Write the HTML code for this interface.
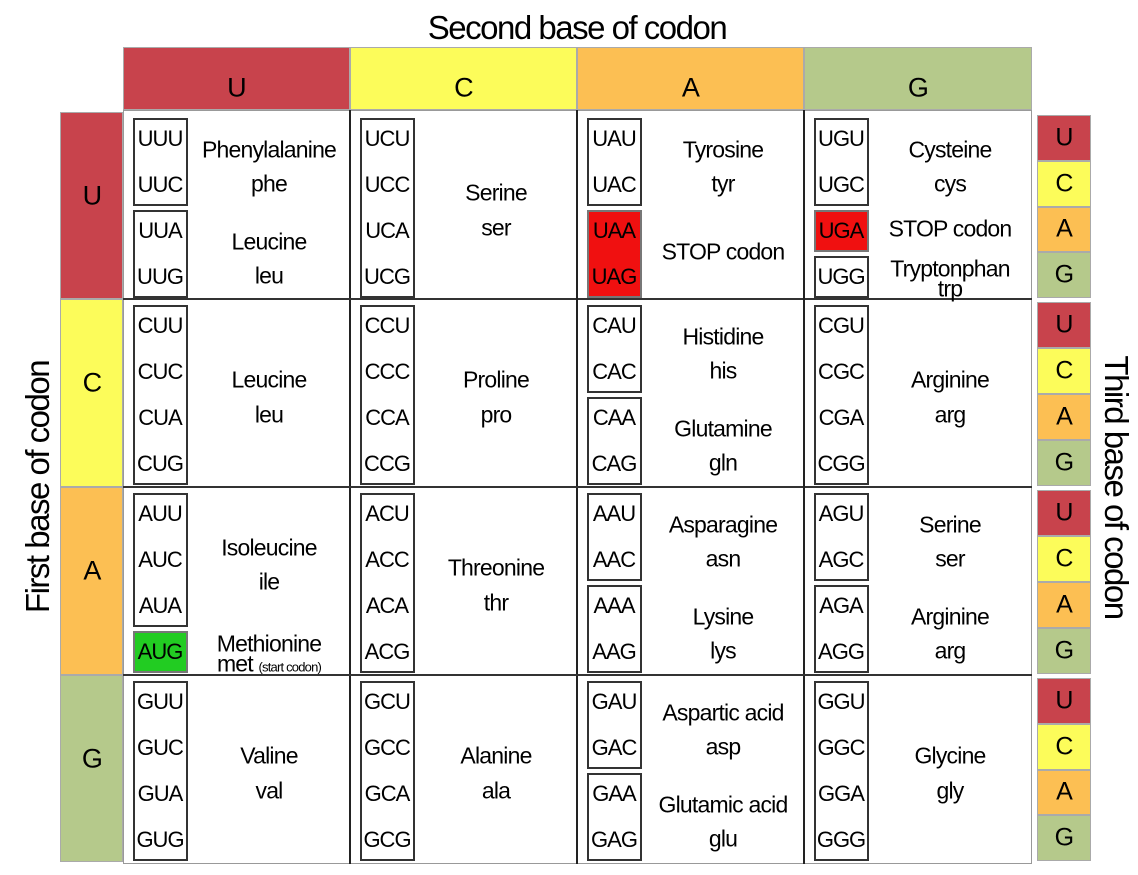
<!DOCTYPE html>
<html><head><meta charset="utf-8">
<style>
body{margin:0;background:#fff;width:1138px;height:875px;overflow:hidden;font-family:"Liberation Sans",sans-serif;}
#root{position:relative;width:1138px;height:875px;}
.abs{position:absolute;box-sizing:border-box;}
.t{position:absolute;white-space:nowrap;transform:translate(-50%,-50%);color:#000;letter-spacing:-0.8px;}
</style></head>
<body>
<div id="root"></div>
<script>
const bases = ["U","C","A","G"];
const baseColors = ["#c8434c","#fcfc5a","#fcbf53","#b5c98b"];
// groups per cell [row][col]: [count, name, abbr, highlight]
const groups = [
 [[[2,"Phenylalanine","phe",""],[2,"Leucine","leu",""]],[[4,"Serine","ser",""]],[[2,"Tyrosine","tyr",""],[2,"STOP codon","","red"]],[[2,"Cysteine","cys",""],[1,"STOP codon","","red"],[1,"Tryptonphan","trp","tight"]]],
 [[[4,"Leucine","leu",""]],[[4,"Proline","pro",""]],[[2,"Histidine","his",""],[2,"Glutamine","gln",""]],[[4,"Arginine","arg",""]]],
 [[[3,"Isoleucine","ile",""],[1,"Methionine","met","green"]],[[4,"Threonine","thr",""]],[[2,"Asparagine","asn",""],[2,"Lysine","lys",""]],[[2,"Serine","ser",""],[2,"Arginine","arg",""]]],
 [[[4,"Valine","val",""]],[[4,"Alanine","ala",""]],[[2,"Aspartic acid","asp",""],[2,"Glutamic acid","glu",""]],[[4,"Glycine","gly",""]]]
];
const root=document.getElementById('root');
const colX=[123,350,577,804,1032];
const rowY=[112,299,487,675,862];
function div(cls,style,text){const d=document.createElement('div');d.className=cls;d.style.cssText=style;if(text!==undefined)d.textContent=text;root.appendChild(d);return d;}

let e=div('t','left:577px;top:28px;font-size:33px;letter-spacing:-1.5px;','Second base of codon');


e=div('t','left:38px;top:487px;font-size:33px;letter-spacing:-1.5px;transform:translate(-50%,-50%) rotate(-90deg);','First base of codon');


e=div('t','left:1116px;top:487px;font-size:33px;letter-spacing:-1.5px;transform:translate(-50%,-50%) rotate(90deg);','Third base of codon');



e=div('abs','left:123px;top:110px;width:909px;height:754px;background:#fff;border:1px solid #999;');



for(let i=0;i<4;i++){
  e=div('abs',`left:${colX[i]}px;top:47px;width:${colX[i+1]-colX[i]}px;height:63px;background:${baseColors[i]};border:1px solid #aaa;`);
  
  
  e=div('t',`left:${(colX[i]+colX[i+1])/2}px;top:88px;font-size:27px;`,bases[i]);
  
  
  e=div('abs',`left:60px;top:${rowY[i]}px;width:63px;height:${rowY[i+1]-rowY[i]}px;background:${baseColors[i]};border:1px solid #aaa;`);
  
  
  e=div('t',`left:92px;top:${rowY[i]+84}px;font-size:27px;`,bases[i]);
  
  
  const h=(rowY[i+1]-rowY[i]-4)/4;
  for(let k=0;k<4;k++){
    const top=rowY[i]+3+h*k;
    e=div('abs',`left:1037px;top:${top}px;width:54px;height:${h}px;background:${baseColors[k]};border:1px solid #aaa;`);
    
    
    e=div('t',`left:1064px;top:${top+h/2}px;font-size:25px;`,bases[k]);
    
    
  }
}
for(let i=1;i<4;i++){
  e=div('abs',`left:${colX[i]-1}px;top:110px;width:2px;height:754px;background:#222;`);
  
  
  e=div('abs',`left:123px;top:${rowY[i]-1}px;width:909px;height:2px;background:#333;`);
  
  
}

for(let r=0;r<4;r++){
  for(let c=0;c<4;c++){
    let idx=0;
    const bx=colX[c]+10;
    for(const g of groups[r][c]){
      const [n,name,abbr,flag]=g;
      const c0=rowY[r]+27+46*idx, c1=rowY[r]+27+46*(idx+n-1);
      const top=c0-21, bot=c1+21;
      const bg=flag==="red"?"#f01010":flag==="green"?"#22cc22":"#fff";
      e=div('abs',`left:${bx}px;top:${top}px;width:55px;height:${bot-top}px;border:2px solid ${flag==="red"||flag==="green"?"#777":"#333"};background:${bg};`);
      
      
      for(let k=0;k<n;k++){
        const codon=bases[r]+bases[c]+bases[idx+k];
        e=div('t',`left:${bx+27}px;top:${c0+46*k}px;font-size:22px;letter-spacing:-1px;`,codon);
        
        
      }
      const mx=colX[c]+146, my=(c0+c1)/2;
      if(flag==="tight"||flag==="green"){
        e=div('t',`left:${mx}px;top:${my-8}px;font-size:23px;`,name);
        
        
        e=div('t',`left:${mx}px;top:${my+12}px;font-size:23px;`,'');
        
        
        if(flag==="green"){e.innerHTML='met <span style="font-size:13px">(start codon)</span>';}
        else e.textContent=abbr;
      } else if(abbr===""){
        e=div('t',`left:${mx}px;top:${my-2}px;font-size:23px;`,name);
        
        
      } else {
        const up=n===4?15:12, dn=n===4?20:22;
        e=div('t',`left:${mx}px;top:${my-up}px;font-size:23px;`,name);
        
        
        e=div('t',`left:${mx}px;top:${my+dn}px;font-size:23px;`,abbr);
        
        
      }
      idx+=n;
    }
  }
}
</script>
</body></html>
